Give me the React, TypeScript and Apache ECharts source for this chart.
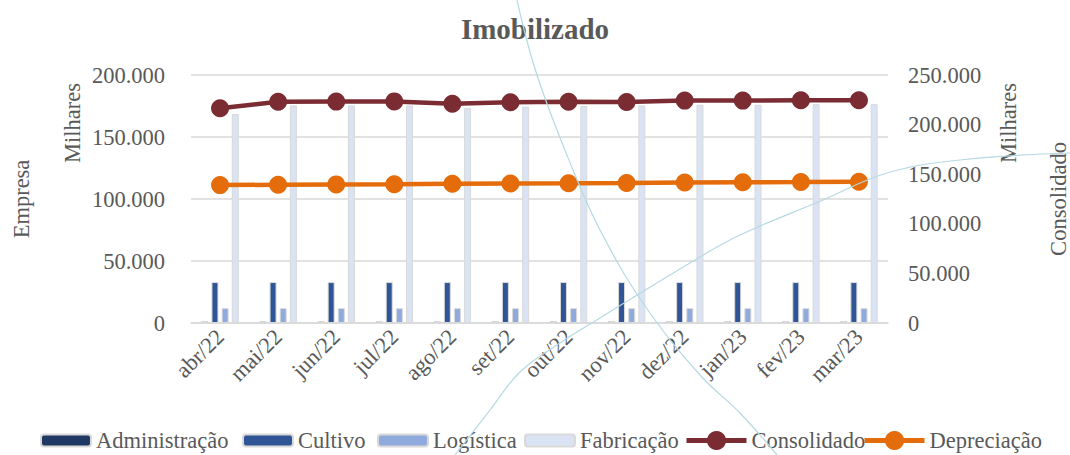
import React, { useEffect, useRef } from "react";
import * as echarts from "echarts";

const categories = ["abr/22", "mai/22", "jun/22", "jul/22", "ago/22", "set/22", "out/22", "nov/22", "dez/22", "jan/23", "fev/23", "mar/23"];
const administracao = [1600, 1600, 1600, 1600, 1600, 1600, 1600, 1600, 1600, 1600, 1600, 1600];
const cultivo = [33000, 33000, 33000, 33000, 33000, 33000, 33000, 33000, 33000, 33000, 33000, 33000];
const logistica = [12000, 12000, 12000, 12000, 12000, 12000, 12000, 12000, 12000, 12000, 12000, 12000];
const fabricacao = [168500, 175500, 175500, 175500, 173500, 174500, 175000, 175500, 176000, 176000, 176500, 176500];
const consolidado = [216500, 223000, 223200, 223400, 221000, 222500, 223000, 222800, 224200, 224200, 224500, 224600];
const depreciacao = [139000, 139400, 139700, 139900, 140300, 140700, 140900, 141200, 141600, 141900, 142100, 142400];

const leftTicks = { min: 0, max: 200000, interval: 50000 };
const rightTicks = { min: 0, max: 250000, interval: 50000 };

const curveA = [[517, 0], [537, 75], [573, 170], [600, 230], [643, 303], [700, 375], [740, 413], [777, 455]];
const curveB = [[455, 455], [490, 410], [520, 372], [560, 343], [600, 318], [700, 257], [740, 235], [823, 200], [887, 173], [960, 160], [1070, 153]];

const FONT = "'Liberation Serif', 'DejaVu Serif', serif";
const TXT = "#595959";
const FS = 22.5;
const fmt = (v: number) => String(v).replace(/\B(?=(\d{3})+(?!\d))/g, ".");

const COLORS = {
  adm: "#203864",
  cul: "#2f5597",
  log: "#8faadc",
  fab: "#dae3f3",
  con: "#7b2c33",
  dep: "#e46c0a",
};

export default function App() {
  const ref = useRef<HTMLDivElement>(null);
  useEffect(() => {
    document.body.style.margin = "0";
    const chart = echarts.init(ref.current!, null, { renderer: "svg" });
    const barBase = { type: "bar", barWidth: 7, barGap: "45%", yAxisIndex: 0 };
    const border = { borderColor: "#d9d9d9", borderWidth: 1 };
    const barLegend = (name: string, left: number) => ({
      data: [name],
      left,
      top: 429,
      padding: 0,
      itemWidth: 50,
      itemHeight: 12,
      textStyle: { fontFamily: FONT, fontSize: FS, color: TXT },
    });
    const lineLegend = (name: string, left: number) => ({
      data: [name],
      left,
      top: 429,
      padding: 0,
      itemWidth: 60,
      itemHeight: 24,
      lineStyle: { width: 5 },
      textStyle: { fontFamily: FONT, fontSize: FS, color: TXT },
    });
    chart.setOption({
      animation: false,
      textStyle: { fontFamily: FONT },
      title: {
        text: "Imobilizado",
        left: "center",
        top: 9,
        textStyle: { fontFamily: FONT, fontSize: 29, fontWeight: "bold", color: TXT },
      },
      grid: { left: 191, right: 182, top: 75, bottom: 132, containLabel: false },
      legend: [
        barLegend("Administração", 40),
        barLegend("Cultivo", 242),
        barLegend("Logística", 377),
        barLegend("Fabricação", 524),
        lineLegend("Consolidado", 684),
        lineLegend("Depreciação", 862),
      ],
      xAxis: {
        type: "category",
        data: categories,
        axisLine: { lineStyle: { color: "#d9d9d9", width: 1.5 } },
        axisTick: { length: 7, lineStyle: { color: "#d9d9d9", width: 1.5 } },
        axisLabel: { rotate: 45, margin: 10, fontFamily: FONT, fontSize: FS, color: TXT },
      },
      yAxis: [
        {
          type: "value",
          ...leftTicks,
          axisLine: { show: false },
          axisTick: { show: false },
          splitLine: { lineStyle: { color: "#d9d9d9", width: 1.5 } },
          axisLabel: { margin: 26, fontFamily: FONT, fontSize: FS, color: TXT, formatter: fmt },
        },
        {
          type: "value",
          ...rightTicks,
          position: "right",
          axisLine: { show: false },
          axisTick: { show: false },
          splitLine: { show: false },
          axisLabel: { margin: 20, fontFamily: FONT, fontSize: FS, color: TXT, formatter: fmt },
        },
      ],
      graphic: [
        { type: "text", x: 21, y: 199, rotation: Math.PI / 2, style: { text: "Empresa", font: `${FS}px ${FONT}`, fill: TXT, align: "center", verticalAlign: "middle" } },
        { type: "text", x: 72, y: 123, rotation: Math.PI / 2, style: { text: "Milhares", font: `${FS}px ${FONT}`, fill: TXT, align: "center", verticalAlign: "middle" } },
        { type: "text", x: 1008, y: 123, rotation: Math.PI / 2, style: { text: "Milhares", font: `${FS}px ${FONT}`, fill: TXT, align: "center", verticalAlign: "middle" } },
        { type: "text", x: 1058, y: 199, rotation: Math.PI / 2, style: { text: "Consolidado", font: `${FS}px ${FONT}`, fill: TXT, align: "center", verticalAlign: "middle" } },
        { type: "polyline", z: 100, silent: true, shape: { points: curveA, smooth: 0.4 }, style: { stroke: "#b5d9e2", lineWidth: 1.2, fill: null } },
        { type: "polyline", z: 100, silent: true, shape: { points: curveB, smooth: 0.4 }, style: { stroke: "#b5d9e2", lineWidth: 1.2, fill: null } },
      ],
      series: [
        { ...barBase, name: "Administração", data: administracao, itemStyle: { color: COLORS.adm, ...border } },
        { ...barBase, name: "Cultivo", data: cultivo, itemStyle: { color: COLORS.cul, ...border } },
        { ...barBase, name: "Logística", data: logistica, itemStyle: { color: COLORS.log, ...border } },
        { ...barBase, name: "Fabricação", data: fabricacao, itemStyle: { color: COLORS.fab, ...border } },
        {
          type: "line",
          name: "Consolidado",
          yAxisIndex: 1,
          data: consolidado,
          symbol: "circle",
          symbolSize: 18,
          lineStyle: { color: COLORS.con, width: 4.5 },
          itemStyle: { color: COLORS.con },
        },
        {
          type: "line",
          name: "Depreciação",
          yAxisIndex: 1,
          data: depreciacao,
          symbol: "circle",
          symbolSize: 18,
          lineStyle: { color: COLORS.dep, width: 4.5 },
          itemStyle: { color: COLORS.dep },
        },
      ],
    });
    return () => chart.dispose();
  }, []);
  return <div ref={ref} style={{ width: 1070, height: 455 }} />;
}
